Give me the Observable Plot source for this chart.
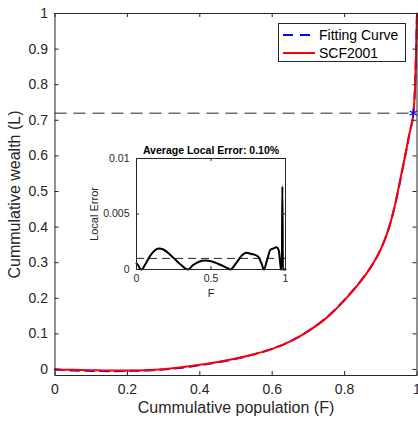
<!DOCTYPE html>
<html>
<head>
<meta charset="utf-8">
<script src="https://cdn.jsdelivr.net/npm/d3@7"></script>
<script src="https://cdn.jsdelivr.net/npm/@observablehq/plot@0.6"></script>
<style>
  html, body { margin: 0; padding: 0; background: #fff; }
  #wrap { position: relative; width: 418px; height: 422px; overflow: hidden; font-family: "Liberation Sans", Arial, sans-serif; }
  #inset { position: absolute; left: 81px; top: 140px; }
  #legend { position: absolute; left: 278px; top: 23px; width: 128px; height: 39px; background: #fff; border: 1px solid #262626; box-sizing: border-box; }
  #legend svg { display: block; }
</style>
</head>
<body>
<div id="wrap">
  <div id="main"></div>
  <div id="inset"></div>
  <div id="legend"></div>
</div>
<script>
// ---- data ----
const popF = [0, 0.05, 0.1, 0.15, 0.2, 0.25, 0.3, 0.35, 0.4, 0.45, 0.5, 0.55, 0.6, 0.65, 0.7, 0.75, 0.8, 0.85, 0.88, 0.9, 0.92, 0.94, 0.95, 0.96, 0.97, 0.98, 0.99, 0.995, 1];
const scf2001 = [0, -0.001, -0.002, -0.003, -0.003, -0.002, 0.001, 0.006, 0.013, 0.021, 0.031, 0.043, 0.058, 0.079, 0.108, 0.145, 0.195, 0.255, 0.3, 0.338, 0.39, 0.465, 0.515, 0.565, 0.615, 0.667, 0.72, 0.8, 1];
const fitting = [0, -0.003, -0.004, -0.005, -0.004, -0.003, 0.0, 0.005, 0.012, 0.02, 0.03, 0.043, 0.058, 0.079, 0.108, 0.146, 0.196, 0.256, 0.3, 0.338, 0.39, 0.465, 0.512, 0.562, 0.613, 0.667, 0.72, 0.81, 1];
const top1F = [0.99];
const top1L = [0.72];
const xTicks = [0, 0.2, 0.4, 0.6, 0.8, 1];
const yTicks = [0, 0.1, 0.2, 0.3, 0.4, 0.5, 0.6, 0.7, 0.8, 0.9, 1];
const seriesNames = ["Fitting Curve", "SCF2001"];
const seriesColors = ["#0000ff", "#ff0000"];

const errF = [0, 0.01, 0.02, 0.035, 0.06, 0.09, 0.12, 0.15, 0.18, 0.22, 0.26, 0.3, 0.345, 0.38, 0.42, 0.46, 0.5, 0.55, 0.6, 0.63, 0.67, 0.71, 0.74, 0.77, 0.8, 0.82, 0.84, 0.855, 0.875, 0.9, 0.92, 0.94, 0.955, 0.965, 0.97, 0.975, 0.979, 0.983, 0.99, 1];
const errVal = [0.00055, 0.0004, 0.00015, 0, 0.0005, 0.0012, 0.0017, 0.0019, 0.0018, 0.0014, 0.0009, 0.0004, 0, 0.0004, 0.0007, 0.0008, 0.00075, 0.0005, 0.0002, 0, 0.0006, 0.0013, 0.0015, 0.0014, 0.0013, 0.0011, 0.0005, 0, 0.0008, 0.0018, 0.0019, 0.002, 0.0017, 0.0005, 0, 0, 0.0075, 0, 0, 0];
const avgErr = [0.001];
const insetXTicks = [0, 0.5, 1];
const insetYTicks = [0, 0.005, 0.01];
const insetTitle = "Average Local Error: 0.10%";

// ---- main chart ----
const ink = "#262626";
const font = "'Liberation Sans', Arial, sans-serif";
const fmt = d => String(d);
const W = 418, H = 422, mL = 54.5, mR = 1.5, mT = 13, mB = 47;
const fh = H - mT - mB, fw = W - mL - mR;
const fitData = popF.map((f, i) => ({f, l: fitting[i]}));
const scfData = popF.map((f, i) => ({f, l: scf2001[i]}));
const tk = 4;

const main = Plot.plot({
  width: W, height: H,
  marginLeft: mL, marginRight: mR, marginTop: mT, marginBottom: mB,
  x: {domain: [0, 1]},
  y: {domain: [-0.0169, 1]},
  style: {fontFamily: font, fontSize: "14px", color: ink, background: "transparent", overflow: "visible"},
  marks: [
    Plot.ruleY(top1L, {y: d => d, x1: 0, x2: top1F[0], stroke: ink, strokeWidth: 1, strokeDasharray: "12,7"}),
    Plot.line(fitData, {x: "f", y: "l", stroke: seriesColors[0], strokeWidth: 2, strokeDasharray: "9,6", curve: "monotone-x"}),
    Plot.line(scfData, {x: "f", y: "l", stroke: seriesColors[1], strokeWidth: 2, curve: "monotone-x"}),
    Plot.dot(top1F.map((f, i) => ({f, l: top1L[i]})), {x: "f", y: "l", symbol: "asterisk", r: 4, stroke: seriesColors[0], strokeWidth: 1.2}),
    Plot.tickX(xTicks, {x: d => d, insetTop: fh - tk, stroke: ink}),
    Plot.tickX(xTicks, {x: d => d, insetBottom: fh - tk, stroke: ink}),
    Plot.tickY(yTicks, {y: d => d, insetRight: fw - tk, stroke: ink}),
    Plot.tickY(yTicks, {y: d => d, insetLeft: fw - tk, stroke: ink}),
    Plot.frame({stroke: ink, strokeWidth: 1}),
    Plot.axisX(xTicks, {tickSize: 0, tickPadding: 9, label: null, fontSize: 14, tickFormat: fmt}),
    Plot.axisY(yTicks, {tickSize: 0, tickPadding: 7, label: null, fontSize: 14, tickFormat: fmt}),
    Plot.text(["Cummulative population (F)"], {frameAnchor: "bottom", lineAnchor: "middle", textAnchor: "middle", dy: 32, fontSize: 16, fill: ink}),
    Plot.text(["Cummulative wealth (L)"], {frameAnchor: "left", lineAnchor: "middle", textAnchor: "middle", dx: -40, rotate: -90, fontSize: 16, fill: ink})
  ]
});
document.getElementById("main").appendChild(main);

// ---- inset ----
const iL = 55, iR = 10, iT = 18, iB = 34, iw = 149, ih = 111;
const errData = errF.map((f, i) => ({f, e: errVal[i]}));
const itk = 3;
const inset = Plot.plot({
  width: iL + iw + iR, height: iT + ih + iB,
  marginLeft: iL, marginRight: iR, marginTop: iT, marginBottom: iB,
  x: {domain: [0, 1]},
  y: {domain: [0, 0.01]},
  style: {fontFamily: font, fontSize: "10.5px", color: ink, background: "transparent", overflow: "visible"},
  marks: [
    Plot.frame({fill: "white", stroke: "none"}),
    Plot.ruleY(avgErr, {y: d => d, stroke: ink, strokeWidth: 1, strokeDasharray: "8,5"}),
    Plot.line(errData, {x: "f", y: "e", stroke: "black", strokeWidth: 2, curve: "monotone-x"}),
    Plot.tickX(insetXTicks, {x: d => d, insetTop: ih - itk, stroke: ink}),
    Plot.tickX(insetXTicks, {x: d => d, insetBottom: ih - itk, stroke: ink}),
    Plot.tickY(insetYTicks, {y: d => d, insetRight: iw - itk, stroke: ink}),
    Plot.tickY(insetYTicks, {y: d => d, insetLeft: iw - itk, stroke: ink}),
    Plot.frame({stroke: ink, strokeWidth: 1}),
    Plot.axisX(insetXTicks, {tickSize: 0, tickPadding: 5, label: null, fontSize: 10.5, tickFormat: fmt}),
    Plot.axisY(insetYTicks, {tickSize: 0, tickPadding: 7, label: null, fontSize: 10.5, tickFormat: fmt}),
    Plot.text(["F"], {frameAnchor: "bottom", lineAnchor: "middle", textAnchor: "middle", dy: 24, fontSize: 11, fill: ink}),
    Plot.text(["Local Error"], {frameAnchor: "left", lineAnchor: "middle", textAnchor: "middle", dx: -42, rotate: -90, fontSize: 11, fill: ink}),
    Plot.text([insetTitle], {frameAnchor: "top", lineAnchor: "middle", textAnchor: "middle", dy: -8, fontSize: 10.5, fontWeight: "bold", fill: "black"})
  ]
});
document.getElementById("inset").appendChild(inset);

// ---- legend ----
const legSvg = d3.create("svg").attr("width", 126).attr("height", 37);
seriesNames.forEach((name, i) => {
  const y = 11 + i * 18;
  legSvg.append("line").attr("x1", 4).attr("x2", 36).attr("y1", y).attr("y2", y)
    .attr("stroke", seriesColors[i]).attr("stroke-width", 2)
    .attr("stroke-dasharray", i === 0 ? "10,7" : null);
  legSvg.append("text").attr("x", 40).attr("y", y).attr("dy", "0.35em")
    .attr("font-family", font).attr("font-size", 14).attr("fill", "#000").text(name);
});
document.getElementById("legend").appendChild(legSvg.node());
</script>
</body>
</html>
